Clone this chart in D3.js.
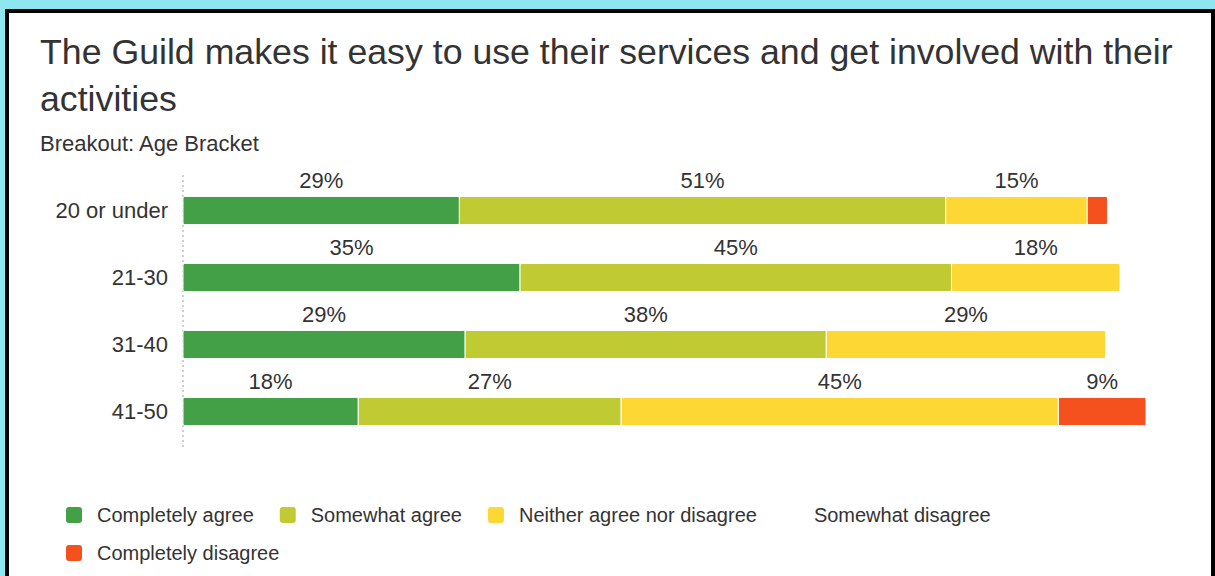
<!DOCTYPE html>
<html>
<head>
<meta charset="utf-8">
<script src="https://cdn.jsdelivr.net/npm/d3@7"></script>
<style>
  body { margin: 0; background: #8ee6f0; }
  svg { display: block; font-family: "Liberation Sans", Arial, sans-serif; }
</style>
</head>
<body>
<svg id="chart" width="1215" height="576"></svg>
<script>
// age brackets and answer share (%) per bracket
const categories = ["20 or under", "21-30", "31-40", "41-50"];
const seriesNames = ["Completely agree", "Somewhat agree", "Neither agree nor disagree", "Somewhat disagree", "Completely disagree"];
const seriesColors = ["#43a047", "#c0ca33", "#fdd835", "#ffffff", "#f4511e"];
const completelyAgree = [28.7, 35.0, 29.3, 18.2];
const somewhatAgree = [50.5, 44.8, 37.5, 27.3];
const neitherAgree = [14.7, 17.5, 29.0, 45.4];
const somewhatDisagree = [0, 0, 0, 0];
const completelyDisagree = [2.1, 0, 0, 9.1];

const seriesValues = [completelyAgree, somewhatAgree, neitherAgree, somewhatDisagree, completelyDisagree];

const svg = d3.select("#chart");
const textColor = "#333";

// frame
svg.append("rect")
    .attr("x", 7).attr("y", 11)
    .attr("width", 1206).attr("height", 580)
    .attr("fill", "white")
    .attr("stroke", "black")
    .attr("stroke-width", 4);

// title
const title = svg.append("text")
    .attr("x", 40)
    .attr("fill", textColor)
    .style("font-size", "35.7px");
title.append("tspan").attr("x", 40).attr("y", 64)
    .text("The Guild makes it easy to use their services and get involved with their");
title.append("tspan").attr("x", 40).attr("y", 111)
    .text("activities");

svg.append("text")
    .attr("x", 40).attr("y", 151)
    .attr("fill", textColor)
    .style("font-size", "22px")
    .text("Breakout: Age Bracket");

// scales
const x = d3.scaleLinear().domain([0, 100]).range([183, 1146]);
const y = d3.scaleBand().domain(categories).range([177, 445])
    .paddingInner(0.58).paddingOuter(0.29);

// dotted baseline
svg.append("line")
    .attr("x1", x(0)).attr("x2", x(0))
    .attr("y1", 175).attr("y2", 447)
    .attr("stroke", "#d0d0d0")
    .attr("stroke-width", 2)
    .attr("stroke-dasharray", "2,3");

// category labels
svg.append("g").selectAll("text")
    .data(categories)
    .join("text")
    .attr("x", 168)
    .attr("y", d => y(d) + y.bandwidth() / 2)
    .attr("dy", "0.35em")
    .attr("text-anchor", "end")
    .attr("fill", textColor)
    .style("font-size", "22px")
    .text(d => d);

// stacked segments
const stacked = [];
categories.forEach((cat, i) => {
    let acc = 0;
    seriesValues.forEach((vals, s) => {
        const v = vals[i];
        stacked.push({ cat, s, x0: acc, x1: acc + v, v });
        acc += v;
    });
});
const segs = stacked.filter(d => d.v > 0);

svg.append("g").selectAll("rect")
    .data(segs)
    .join("rect")
    .attr("x", d => x(d.x0))
    .attr("y", d => y(d.cat))
    .attr("width", d => x(d.x1) - x(d.x0))
    .attr("height", y.bandwidth())
    .attr("rx", 1.5)
    .attr("fill", d => seriesColors[d.s])
    .attr("stroke", "white")
    .attr("stroke-width", 1);

// value labels
svg.append("g").selectAll("text")
    .data(segs.filter(d => d.v >= 5))
    .join("text")
    .attr("x", d => (x(d.x0) + x(d.x1)) / 2)
    .attr("y", d => y(d.cat) - 8)
    .attr("text-anchor", "middle")
    .attr("fill", textColor)
    .style("font-size", "22px")
    .text(d => Math.round(d.v) + "%");

// legend
const legend = svg.append("g");
let lx = 66, ly = 515;
seriesNames.forEach((name, i) => {
    const item = legend.append("g");
    item.append("rect")
        .attr("width", 16).attr("height", 16)
        .attr("y", -8)
        .attr("rx", 3)
        .attr("fill", seriesColors[i]);
    const t = item.append("text")
        .attr("x", 31)
        .attr("dy", "0.35em")
        .attr("fill", textColor)
        .style("font-size", "20px")
        .text(name);
    const w = 31 + t.node().getComputedTextLength();
    if (lx + w > 1150) { lx = 66; ly += 38; }
    item.attr("transform", `translate(${lx},${ly})`);
    lx += w + 26;
});
</script>
</body>
</html>
